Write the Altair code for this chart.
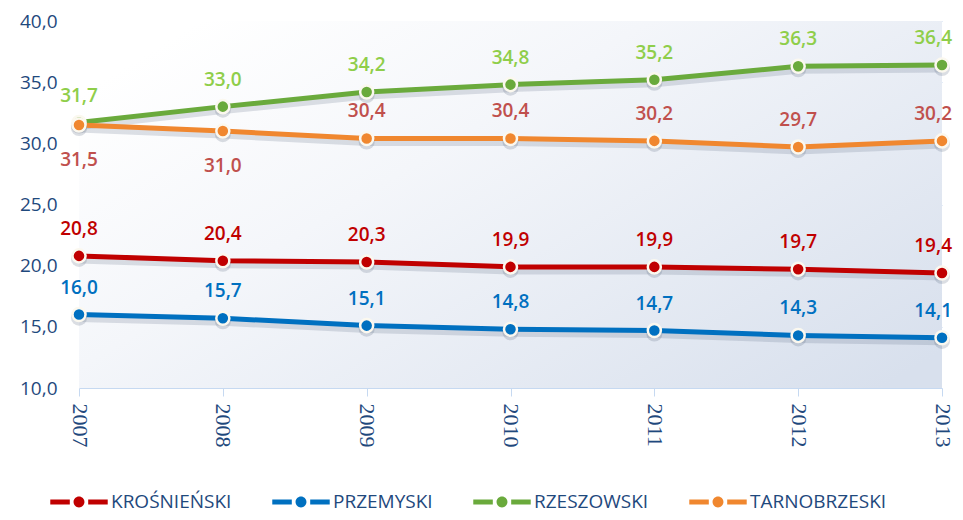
import altair as alt
import pandas as pd

years = [2007, 2008, 2009, 2010, 2011, 2012, 2013]
series_names = ["KROŚNIEŃSKI", "PRZEMYSKI", "RZESZOWSKI", "TARNOBRZESKI"]
krosnienski = [20.8, 20.4, 20.3, 19.9, 19.9, 19.7, 19.4]
przemyski = [16.0, 15.7, 15.1, 14.8, 14.7, 14.3, 14.1]
rzeszowski = [31.7, 33.0, 34.2, 34.8, 35.2, 36.3, 36.4]
tarnobrzeski = [31.5, 31.0, 30.4, 30.4, 30.2, 29.7, 30.2]
# label placement relative to point
tarn_label_pos = ["below", "below", "above", "above", "above", "above", "above"]

line_colors = ["#c00000", "#0070c0", "#6aaa3c", "#f0872f"]
label_colors = ["#c00000", "#0070c0", "#8fce4a", "#c0504d"]
y_ticks = [10, 15, 20, 25, 30, 35, 40]

values = [krosnienski, przemyski, rzeszowski, tarnobrzeski]
rows = []
for s, name in enumerate(series_names):
    for i, yr in enumerate(years):
        pos = tarn_label_pos[i] if name == "TARNOBRZESKI" else "above"
        rows.append({"year": yr, "series": name, "value": values[s][i],
                     "pos": pos, "lcolor": label_colors[s]})
df = pd.DataFrame(rows)
bg_df = pd.DataFrame({"year": [years[0]], "year2": [years[-1]],
                      "value": [y_ticks[0]], "value2": [y_ticks[-1]]})

xscale = alt.Scale(domain=[2007, 2013], nice=False, zero=False)
yscale = alt.Scale(domain=[10, 40], nice=False, zero=False)
xaxis = alt.Axis(values=years, labelExpr="datum.value", title=None, grid=False,
                 domain=False, ticks=True, tickColor="#c6d9f1", tickSize=8,
                 labelAngle=90, labelFont="Liberation Serif", labelFontSize=22,
                 labelColor="#1f497d", labelPadding=7)
yaxis = alt.Axis(values=y_ticks, title=None, domain=False, ticks=False,
                 labelExpr="replace(format(datum.value, '.1f'), '.', ',')",
                 gridColor="#c6d9f1", gridWidth=1, labelFont="Open Sans",
                 labelFontSize=19, labelColor="#1f497d", labelPadding=22)
x = alt.X("year:Q", scale=xscale, axis=xaxis)
y = alt.Y("value:Q", scale=yscale, axis=yaxis)

legend = alt.Legend(
    title=None, orient="none", direction="horizontal",
    legendX=-29, legendY=452,
    symbolType="M-1,-0.085H-0.32V0.085H-1Z M0.32,-0.085H1V0.085H0.32Z M-0.19,0A0.19,0.19 0 1,0 0.19,0A0.19,0.19 0 1,0 -0.19,0Z",
    symbolSize=3300, symbolStrokeWidth=0, symbolOpacity=1,
    labelFont="Open Sans", labelFontSize=19, labelColor="#1f497d",
    labelOffset=3, columnPadding=40, labelLimit=300)
cscale = alt.Scale(domain=series_names, range=line_colors)

gradient = alt.LinearGradient(
    gradient="linear", x1=0, y1=0.2, x2=1, y2=0.9,
    stops=[alt.GradientStop(offset=0, color="#ffffff"),
           alt.GradientStop(offset=0.35, color="#f4f6fa"),
           alt.GradientStop(offset=1, color="#d8e0ed")])

bg = alt.Chart(bg_df).mark_rect(fill=gradient).encode(
    x=x, x2="year2:Q", y=y, y2="value2:Q")

base = alt.Chart(df)

shadow = base.mark_line(strokeWidth=7, color="#5a6a80", opacity=0.2, yOffset=4).encode(
    x=x, y=y, detail="series:N")
lines = base.mark_line(strokeWidth=5).encode(
    x=x, y=y, color=alt.Color("series:N", scale=cscale, legend=legend))
pshadow = base.mark_circle(size=260, color="#5a6a80", opacity=0.22, yOffset=3).encode(x=x, y=y)
points = base.mark_point(filled=True, size=170, strokeWidth=2.5, opacity=1).encode(
    x=x, y=y,
    color=alt.Color("series:N", scale=cscale, legend=legend),
    stroke=alt.value("#fbf8ef"))

text_style = dict(font="Open Sans", fontSize=19, fontWeight=600)
lbl_expr = "replace(format(datum.value, '.1f'), '.', ',')"
last = years[-1]
labels_above = base.transform_filter(
    f"datum.pos == 'above' && datum.year != {last}").transform_calculate(lbl=lbl_expr
).mark_text(dy=-27, **text_style).encode(
    x=x, y=y, text="lbl:N", color=alt.Color("lcolor:N", scale=None))
labels_last = base.transform_filter(
    f"datum.pos == 'above' && datum.year == {last}").transform_calculate(lbl=lbl_expr
).mark_text(dy=-27, align="right", dx=10, **text_style).encode(
    x=x, y=y, text="lbl:N", color=alt.Color("lcolor:N", scale=None))
labels_below = base.transform_filter("datum.pos == 'below'").transform_calculate(lbl=lbl_expr
).mark_text(dy=35, **text_style).encode(
    x=x, y=y, text="lbl:N", color=alt.Color("lcolor:N", scale=None))

chart = alt.layer(bg, shadow, lines, pshadow, points, labels_above, labels_last,
                  labels_below).properties(
    width=863, height=367,
    autosize=alt.AutoSizeParams(type="none"),
    padding={"left": 71, "top": 13, "right": 13, "bottom": 124},
    background="#ffffff",
).configure_view(stroke=None)

chart.save("out.html", embed_options={"renderer": "svg", "actions": False})
